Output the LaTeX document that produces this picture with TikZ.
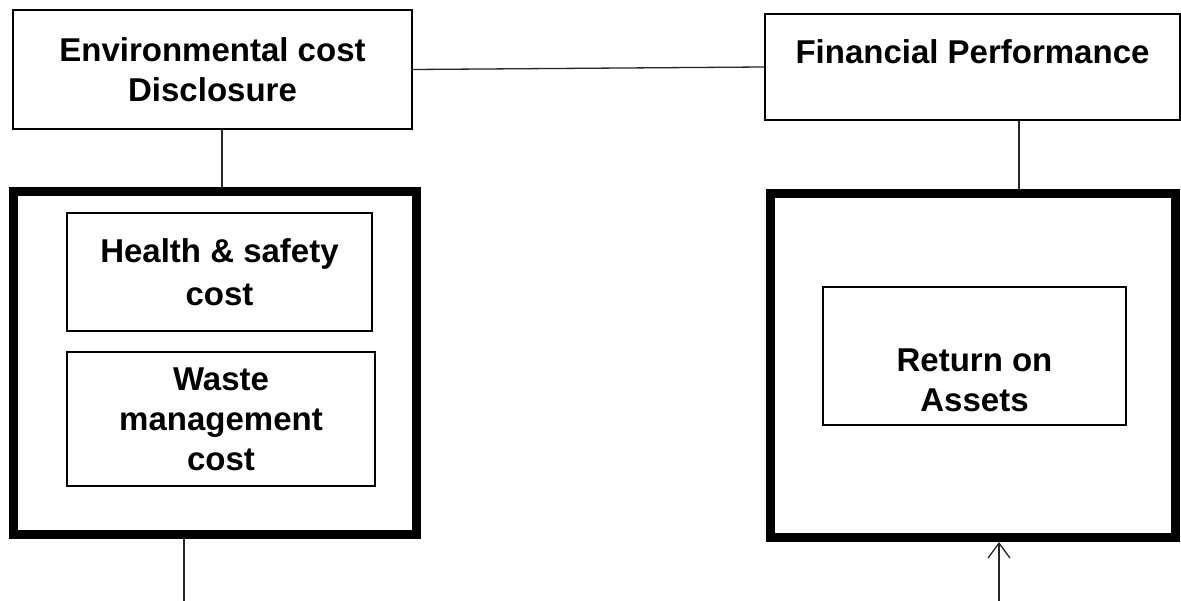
\documentclass[tikz,border=0pt]{standalone}
\usepackage{fontspec}
\setmainfont{Liberation Sans}
\usetikzlibrary{arrows.meta}
\begin{document}
\begin{tikzpicture}[x=1pt,y=-1pt,
  thinbox/.style={draw=black, line width=1.8pt, fill=white, inner sep=0pt, align=center,
    font=\bfseries\fontsize{33}{40}\selectfont},
  bigbox/.style={draw=black, line width=9pt, inner sep=0pt},
  lbl/.style={align=center, inner sep=0pt, font=\bfseries\fontsize{33}{40}\selectfont},
  conn/.style={draw=black!85, line width=1.3pt}]
\useasboundingbox (0,0) rectangle (1181,601);
\fill[white] (0,0) rectangle (1181,601);
% top boxes
\node[thinbox, minimum width=399pt, minimum height=119pt] (ecd) at (212.5,69.5) {Environmental cost\\Disclosure};
\node[thinbox, minimum width=415pt, minimum height=106pt] (fp) at (972.5,67) {};
\node[lbl] (fpt) at ([yshift=15pt]fp.center) {Financial Performance};
% big boxes
\node[bigbox, minimum width=403pt, minimum height=343pt] (lbig) at (215,363) {};
\node[bigbox, minimum width=405pt, minimum height=344pt] (rbig) at (973,365.5) {};
% inner boxes
\node[thinbox, minimum width=305pt, minimum height=118pt] (hs) at (219.5,272) {Health \& safety\\[3pt]cost};
\node[thinbox, minimum width=308pt, minimum height=134pt] (wm) at (221,419) {Waste\\management\\cost};
\node[thinbox, minimum width=303pt, minimum height=138pt] (roa) at (974.5,356) {};
\node[lbl] (roat) at ([yshift=-24pt]roa.center) {Return on\\Assets};
% connectors
\coordinate (c1) at (222,0);
\coordinate (c2) at (1019,0);
\coordinate (b1) at (184,601);
\coordinate (b2) at (999,601);
\draw[conn] (ecd.east) -- (fp.west);
\draw[conn] (ecd.south -| c1) -- (lbig.north -| c1);
\draw[conn] (fp.south -| c2) -- (rbig.north -| c2);
\draw[conn] (lbig.south -| b1) -- (b1);
\draw[conn, -{Straight Barb[length=15pt,width=22pt]}] (b2) -- (rbig.south -| b2);
\end{tikzpicture}
\end{document}
